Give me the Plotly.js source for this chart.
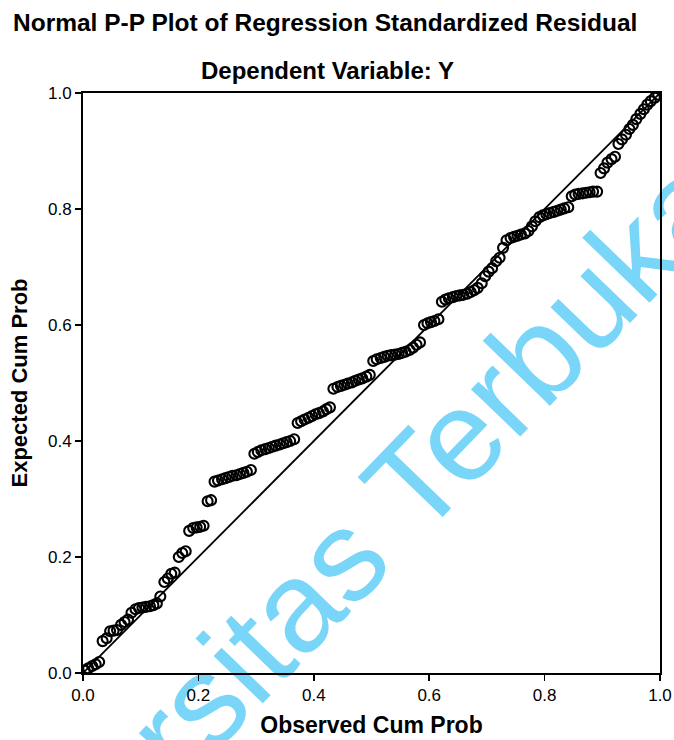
<!DOCTYPE html>
<html>
<head>
<meta charset="utf-8">
<script src="https://cdn.plot.ly/plotly-3.0.1.min.js"></script>
<style>html,body{margin:0;padding:0;background:#fff;}#chart{width:674px;height:740px;}</style>
</head>
<body>
<div id="chart"></div>
<script>
// Observed cumulative probability
const observedCumProb = [
0.003,0.009,0.016,0.022,0.028,0.034,0.041,0.047,0.053,0.059,
0.066,0.072,0.078,0.084,0.091,0.097,0.103,0.109,0.116,0.122,
0.128,0.134,0.141,0.147,0.153,0.159,0.166,0.172,0.178,0.184,
0.191,0.197,0.203,0.209,0.216,0.222,0.228,0.234,0.241,0.247,
0.253,0.259,0.266,0.272,0.278,0.284,0.291,0.297,0.303,0.309,
0.316,0.322,0.328,0.334,0.341,0.347,0.353,0.359,0.366,0.372,
0.378,0.384,0.391,0.397,0.403,0.409,0.416,0.422,0.428,0.434,
0.441,0.447,0.453,0.459,0.466,0.472,0.478,0.484,0.491,0.497,
0.503,0.509,0.516,0.522,0.528,0.534,0.541,0.547,0.553,0.559,
0.566,0.572,0.578,0.584,0.591,0.597,0.603,0.609,0.616,0.622,
0.628,0.634,0.641,0.647,0.653,0.659,0.666,0.672,0.678,0.684,
0.691,0.697,0.703,0.709,0.716,0.722,0.728,0.734,0.741,0.747,
0.753,0.759,0.766,0.772,0.778,0.784,0.791,0.797,0.803,0.809,
0.816,0.822,0.828,0.834,0.841,0.847,0.853,0.859,0.866,0.872,
0.878,0.884,0.891,0.897,0.903,0.909,0.916,0.922,0.928,0.934,
0.941,0.947,0.953,0.959,0.966,0.972,0.978,0.984,0.991,0.997
];
// Expected cumulative probability
const expectedCumProb = [
0.004,0.008,0.012,0.015,0.019,0.055,0.060,0.072,0.073,0.074,
0.083,0.088,0.092,0.104,0.110,0.112,0.113,0.114,0.115,0.117,
0.120,0.132,0.157,0.163,0.171,0.173,0.200,0.207,0.210,0.245,
0.250,0.251,0.252,0.254,0.296,0.298,0.330,0.332,0.334,0.336,
0.338,0.340,0.341,0.343,0.345,0.347,0.350,0.378,0.381,0.384,
0.386,0.388,0.390,0.392,0.394,0.396,0.398,0.400,0.403,0.431,
0.434,0.437,0.440,0.443,0.446,0.448,0.451,0.455,0.458,0.490,
0.493,0.495,0.497,0.499,0.501,0.504,0.506,0.508,0.511,0.514,
0.538,0.541,0.543,0.545,0.547,0.548,0.549,0.550,0.552,0.554,
0.557,0.561,0.566,0.570,0.600,0.603,0.605,0.607,0.610,0.640,
0.644,0.646,0.648,0.650,0.651,0.652,0.654,0.657,0.660,0.664,
0.672,0.684,0.692,0.698,0.710,0.716,0.733,0.746,0.750,0.752,
0.754,0.756,0.758,0.762,0.770,0.779,0.786,0.789,0.791,0.793,
0.795,0.797,0.799,0.801,0.803,0.822,0.825,0.826,0.827,0.828,
0.829,0.830,0.830,0.862,0.870,0.880,0.886,0.890,0.912,0.920,
0.928,0.938,0.945,0.955,0.964,0.972,0.980,0.986,0.992,0.997
];
// Reference diagonal
const diagX = [0, 1];
const diagY = [0, 1];
const tickVals = [0, 0.2, 0.4, 0.6, 0.8, 1.0];
const tickText = ["0.0", "0.2", "0.4", "0.6", "0.8", "1.0"];

const titleText = "Normal P-P Plot of Regression Standardized Residual";
const subtitleText = "Dependent Variable: Y";
const xTitle = "Observed Cum Prob";
const yTitle = "Expected Cum Prob";
const watermark = "Universitas Terbuka";

const FONT = "Liberation Sans, Arial, sans-serif";

const traces = [
  {
    x: diagX, y: diagY, type: "scatter", mode: "lines",
    line: {color: "#000", width: 1.8},
    hoverinfo: "skip", showlegend: false
  },
  {
    x: observedCumProb, y: expectedCumProb, type: "scatter", mode: "markers",
    marker: {symbol: "circle-open", size: 10, color: "#000", line: {color: "#000", width: 2.1}},
    showlegend: false
  }
];

const axisCommon = {
  range: [0, 1], tickvals: tickVals, ticktext: tickText,
  showgrid: false, zeroline: false, showline: true, mirror: true,
  linecolor: "#000", linewidth: 2, ticks: "outside", ticklen: 6, tickwidth: 1.5, tickcolor: "#000",
  tickfont: {family: FONT, size: 17, color: "#000"}, fixedrange: true
};

const layout = {
  width: 674, height: 740,
  margin: {l: 83, r: 14, t: 93, b: 67},
  paper_bgcolor: "#fff", plot_bgcolor: "#fff",
  xaxis: Object.assign({}, axisCommon, {
    title: {text: xTitle, font: {family: FONT, size: 23, color: "#000", weight: "bold"}, standoff: 12}
  }),
  yaxis: Object.assign({}, axisCommon, {
    title: {text: yTitle, font: {family: FONT, size: 22, color: "#000", weight: "bold"}, standoff: 14}
  }),
  shapes: [
    {type: "rect", xref: "paper", yref: "paper", x0: 0.383, x1: 0.385, y0: 0.163, y1: 0.165,
     layer: "below", line: {width: 0}, fillcolor: "rgba(0,0,0,0)",
     label: {text: watermark, textangle: -46, textposition: "middle center",
             font: {family: FONT, size: 129, color: "#79d6f9"}}}
  ],
  annotations: [
    {text: "<b>" + titleText + "</b>", xref: "paper", yref: "paper", x: 0.419, y: 1.122,
     xanchor: "center", yanchor: "middle", showarrow: false,
     font: {family: FONT, size: 24.5, color: "#000"}},
    {text: "<b>" + subtitleText + "</b>", xref: "paper", yref: "paper", x: 0.423, y: 1.039,
     xanchor: "center", yanchor: "middle", showarrow: false,
     font: {family: FONT, size: 24, color: "#000"}}
  ]
};

Plotly.newPlot("chart", traces, layout, {displayModeBar: false, staticPlot: true});
</script>
</body>
</html>
